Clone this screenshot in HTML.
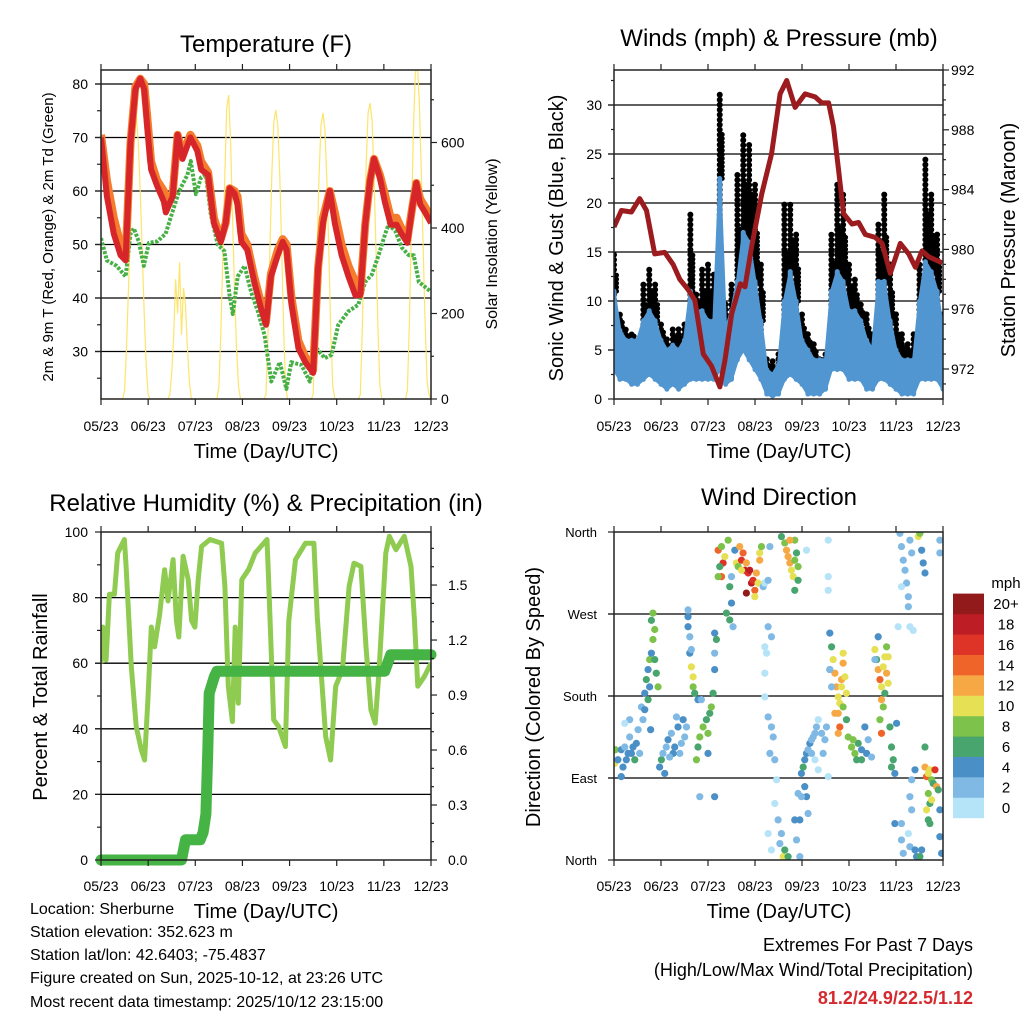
<!DOCTYPE html>
<html><head><meta charset="utf-8"><title>Sherburne Station Charts</title>
<style>
html,body{margin:0;padding:0;background:#fff;}
svg{display:block;font-family:"Liberation Sans",Arial,sans-serif;}
</style></head>
<body>
<svg id="fig" width="1024" height="1024" viewBox="0 0 1024 1024" xmlns="http://www.w3.org/2000/svg">
<defs>
<clipPath id="c1"><rect x="101" y="70" width="330" height="329"/></clipPath>
<clipPath id="c2"><rect x="614" y="70" width="329" height="329"/></clipPath>
<clipPath id="c3"><rect x="101" y="532" width="330" height="328"/></clipPath>
<clipPath id="c4"><rect x="614" y="532" width="329" height="328"/></clipPath>
</defs>
<g id="grid"></g>
<g id="d1" clip-path="url(#c1)"></g>
<g id="d2" clip-path="url(#c2)"></g>
<g id="d3" clip-path="url(#c3)"></g>
<g id="d4" clip-path="url(#c4)"></g>
<g id="axes"></g>

<text x="266" y="52" font-size="24" text-anchor="middle">Temperature (F)</text>
<text x="779" y="46" font-size="24" text-anchor="middle">Winds (mph) &amp; Pressure (mb)</text>
<text x="266" y="511" font-size="24" text-anchor="middle">Relative Humidity (%) &amp; Precipitation (in)</text>
<text x="779" y="505" font-size="24" text-anchor="middle">Wind Direction</text>

<text x="266" y="458" font-size="20" text-anchor="middle">Time (Day/UTC)</text>
<text x="779" y="458" font-size="20" text-anchor="middle">Time (Day/UTC)</text>
<text x="266" y="918" font-size="20" text-anchor="middle">Time (Day/UTC)</text>
<text x="779" y="918" font-size="20" text-anchor="middle">Time (Day/UTC)</text>

<text transform="translate(53,237) rotate(-90)" font-size="15" text-anchor="middle">2m &amp; 9m T (Red, Orange) &amp; 2m Td (Green)</text>
<text transform="translate(497,244) rotate(-90)" font-size="16" text-anchor="middle">Solar Insolation (Yellow)</text>
<text transform="translate(563,238) rotate(-90)" font-size="20" text-anchor="middle">Sonic Wind &amp; Gust (Blue, Black)</text>
<text transform="translate(1015,240) rotate(-90)" font-size="20" text-anchor="middle">Station Pressure (Maroon)</text>
<text transform="translate(47,697) rotate(-90)" font-size="20" text-anchor="middle">Percent &amp; Total Rainfall</text>
<text transform="translate(540,697) rotate(-90)" font-size="20" text-anchor="middle">Direction (Colored By Speed)</text>

<g font-size="16">
<text x="30" y="914">Location: Sherburne</text>
<text x="30" y="937">Station elevation: 352.623 m</text>
<text x="30" y="960">Station lat/lon: 42.6403; -75.4837</text>
<text x="30" y="983">Figure created on Sun, 2025-10-12, at 23:26 UTC</text>
<text x="30" y="1007">Most recent data timestamp: 2025/10/12 23:15:00</text>
</g>
<text x="973" y="951" font-size="18" text-anchor="end">Extremes For Past 7 Days</text>
<text x="973" y="976" font-size="18" text-anchor="end">(High/Low/Max Wind/Total Precipitation)</text>
<text x="973" y="1004" font-size="18" font-weight="bold" fill="#d42a2f" text-anchor="end">81.2/24.9/22.5/1.12</text>
<text x="1006" y="588" font-size="15" text-anchor="middle">mph</text>
<g id="cbar"></g>
</svg>
<script>
// ---------- data ----------
const xTickLabels=['05/23','06/23','07/23','08/23','09/23','10/23','11/23','12/23'];
const tempTicks=[30,40,50,60,70,80];
const solarTicks=[0,200,400,600];
const windTicks=[0,5,10,15,20,25,30];
const presTicks=[972,976,980,984,988,992];
const rhTicks=[0,20,40,60,80,100];
const rainTicks=[0.0,0.3,0.6,0.9,1.2,1.5];
const dirTickLabels=['North','East','South','West','North'];
const dirTickValues=[0,90,180,270,360];
const speedBins=['0','2','4','6','8','10','12','14','16','18','20+'];
const speedColors=['#b5e3f7','#80bae4','#4a8fc6','#48a56d','#7dc24a','#e6e055','#f6a844','#ef6428','#de3428','#bd1d24','#921a1b'];

const tHours=[0,3,6.5,10,12.5,15,17.5,20,22,23.5,25.5,28.5,32,33,36.5,39,41.5,45.5,49,51,54.5,57.5,61,63.5,65.5,68,69.5,71.5,74.5,78,81.5,84,86.5,90,92.5,94.5,97,100.5,104,108,110.5,113,116.5,119,122.5,126,129.5,132,134.5,137,139,142,144.5,147.5,150.5,153,156,158.5,160.5,162.5,165,168];
const temp2m=[70,59,52,48,47,69,79,81,79,72,64,61,58,56,59,70.5,66,70,67.5,64,63,54,50.5,54,60.5,59.5,57.5,50.5,49,43,38,35,44,48,50.5,49,38.8,30.6,28,26,45.6,54,60,54,48,44,40.5,40.5,53.7,62,66,62.5,58,53.7,53.7,52,50.3,57,61.5,57.5,56,54];
const temp9m=[70.5,62,55,50,47.5,69,79.5,81,80,74,65.5,62,60,58,59.5,70.5,67,70.5,68.5,65.5,63.5,55,51,54,60.5,60,59,52,50,44,39,35.5,44.5,49,51,50,40,32,29,26.5,45.6,55,60,56,50,46,43,41,53.7,62,66,63,59.5,55,55,53,51,57,61.5,58.5,57,55];
const tdHours=[0,3,8,12.5,15,16.7,19.2,21.8,24.4,28.7,32.9,36.3,39.8,44,45.7,48.3,50.9,53.4,55.9,59.4,62.8,65.4,67.1,69.6,73.1,76.5,79.9,83.3,86.7,91,94.4,96.9,102,106.3,109.7,114,117.4,120.8,125.9,131,134.5,137.9,141.3,144.7,146.4,149.8,153.2,156.7,159.2,161.8,165.2,167.7];
const dewpoint=[51.2,47,46,44,52,53,50.6,46,50.3,50.6,52,56,60,63,65.6,59.4,62.5,63,55.6,50,48.75,40.6,37,44,46,41,37.5,33,24.4,28,23,28,27.5,24.4,30.6,28.75,29.4,35,37.5,38.75,43,44.4,48,52,53.75,52.5,49.4,48,48,43,42,41.25];
const solar=[
0,0,0,0,0,0,0,0,0,0,0,0,20,120,260,400,520,620,660,600,480,340,200,80,
10,0,0,0,0,0,0,0,0,0,0,10,60,150,280,200,320,150,260,220,120,40,0,0,
0,0,0,0,0,0,0,0,0,0,0,0,30,150,330,520,680,711,600,420,250,120,30,0,
0,0,0,0,0,0,0,0,0,0,0,0,10,150,350,530,650,676,640,520,350,160,30,0,
0,0,0,0,0,0,0,0,0,0,0,0,10,150,350,520,640,669,630,510,340,150,30,0,
0,0,0,0,0,0,0,0,0,0,0,0,10,160,370,550,670,692,650,520,350,160,30,0,
0,0,0,0,0,0,0,0,0,0,0,0,20,180,400,620,760,790,700,540,360,180,40,10,0];

const windLo=[3,2,2,1.5,1.5,2,2.5,2,1.5,1,1.5,1,1.5,2,2,2,2,2,3,1.5,2,4,5,4,3,2,0.5,0.3,0.5,2,2.5,2,1.5,0.5,0.5,0.5,1,3,3,3,2,2,2,1,1,2,2,1.5,1,0.5,0.5,0.5,2,2,2,2,1];
const windHi=[11,7,6,6,6,8,9,8,6,5,5.5,5,6,11,9,9,8,8,22.5,7,9,12,17,16,12,8,3,2.5,3.5,10,13,10,6,5,4,4,4,11,13,12,9,9,8,6,5,12,12,8,5,4,4,4,10,14,13,11,7];
const gustHi=[15,9,7.5,7,6,12,13.5,12,8,6.5,7.5,7.5,8,19,11,13.5,14,13,31.5,10,12,23,27,26,22,14,4.5,4,5,20,20,17,9,7,6,4.5,5,17,22,21,14,12.5,10,9,7,18,21,14,9,7,6,7,14,24.5,21,17,9];
const presHours=[0,3.8,8.9,13.1,16.6,20.8,25.9,30.2,33.6,37.9,41.3,45.6,49.8,54.1,56.7,60.1,64.5,66.9,70.3,75.4,80.5,84.8,88.2,92.5,97.6,102.7,106.1,109.6,112.1,114.7,117.2,121.5,124.9,128.3,133.4,136.9,141.1,146.2,150.5,153.9,157.3,160.8,167.6];
const pressure=[981.5,982.6,982.5,983.4,982.6,979.7,979.8,979.0,978.0,977.3,976.6,973.0,972.2,970.8,972.6,975.7,977.7,977.5,980.2,983.7,986.4,990.4,991.3,989.5,990.4,990.2,989.8,989.8,988.2,985.3,982.4,981.7,981.8,981.0,980.8,980.4,978.4,980.4,979.7,978.8,979.9,979.5,979.1];

const rhHours=[0,0.9,2.6,4.3,6.8,8.5,11.9,12.8,15.4,17.9,20.5,22.2,23.9,25.6,27.3,29.9,32.4,34.1,36.7,38.4,39.6,41.8,44.4,46.1,47.8,49.5,51.2,55.5,61.4,63.1,64.8,66.9,68.3,69.9,71.7,75.1,78.5,84.5,85.3,87.9,90.4,93.9,95.6,99,104.1,108.4,110.1,114.4,116.9,119.5,122.9,126.3,128.8,132.3,134.9,137.4,139.6,141.6,145,146.8,150.2,154.4,157.8,159.6,161.3,164.7,168];
const rh=[60,71,61,81,81,93.6,97.7,89.5,59,40.7,33.6,30.5,48.8,71,65,75,88.5,79,91.6,73,68,92.6,85.5,73,71,85.5,95.6,97.7,96.6,83.4,53,42.2,71,47.8,85.5,88.5,93.6,97.7,85.5,42.7,40.7,34.6,73,91.6,96.6,96.6,74,37.6,30.5,53,58,83.4,90.5,89.5,65,45.8,41.7,58,93.6,98.7,94.6,98.7,89.5,73,53,56,60];
const rainHours=[0,41,43,50.5,52,53.4,54.3,55.1,57.7,59,144.5,147.5,168];
const rain=[0,0,0.11,0.11,0.15,0.25,0.58,0.91,1.0,1.03,1.03,1.12,1.12];

const dirHour=[0.3,0.7,2,3.7,4.6,5.5,6.3,7.2,8,8.9,9.7,10.6,11.4,12.3,13.1,3.7,8,5.5,
14,15.7,16.5,17.4,18.2,19.1,19.9,20.8,19.9,19.1,21.6,22.5,17.4,15.7,14.8,18.7,20.8,18.2,
23.3,24.2,25,26.7,27.6,29.3,31,32.7,33.6,35.3,36.1,37,25.9,31.9,30.2,28.4,34.4,
37.8,37.8,38.7,39.5,40.4,40.4,41.2,38.7,37.8,39.5,
42.1,42.9,43.8,45.5,47.2,48,48.9,49.7,50.6,51.4,51.4,52.3,51.4,42.9,44.6,48,43.8,51.4,
53.2,54.9,55.7,54,54.9,56.6,58.3,59.1,60,59.1,61.7,62.5,64.2,65.1,65.9,66.8,67.6,68.5,69.3,70.2,71,71.9,67.6,72.7,73.6,74.4,75.3,71.9,60,63.4,53.2,57.4,60.8,74.4,65.1,
76.2,77,78.7,79.6,77,77.9,78.7,80.4,77,77,78.7,80.4,81.3,79.6,82.1,83,82.1,83.8,85.5,78.7,80.4,86.4,88.9,87.2,94.9,92.3,94.9,93.2,94,84.7,
85.5,87.2,88.1,88.9,89.8,90.6,91.5,92.3,93.2,94,94,92.3,89.8,92.3,109.4,109.4,109.4,98.3,
95.7,96.6,97.4,98.3,99.1,100,100.9,101.7,102.6,103.4,104.3,106,106.8,107.7,108.5,97.4,98.3,95.7,99.1,100.9,102.6,109.4,104.3,
110.2,110.2,111.1,111.9,112.8,113.6,114.5,115.3,116.2,117,116.2,117.9,118.7,114.5,115.3,114.5,112.8,117,117,118.7,119.6,121.3,123,124.7,122.1,123.9,126.4,128.1,129,129.8,131.5,126.4,110.2,111.1,
133.2,134.1,134.9,135.8,136.6,137.5,138.3,139.2,140,136.6,137.5,138.3,135.8,136.6,134.9,133.2,140.9,141.7,142.6,143.4,141.7,144.3,140,139.2,
146,146.8,147.7,148.6,149.4,150.3,151.1,152,150.3,146.8,155.4,156.2,157.1,157.9,158.8,166.4,166.4,145.1,151.1,152.8,
143.4,146.8,146.8,147.7,150.3,151.1,153.7,154.5,156.2,157.1,166.4,167.3,166.4,152,151.1,152,153.7,
158.8,159.6,160.5,161.3,162.2,163,163.9,164.7,165.6,160.5,161.3,159.6,160.5,162.2,161.3,158.8];
const dirDeg=[106,121,110,121,102,124,110,117,135,117,124,110,128,143,117,91.5,154,150,
168,183,198,209,220,227,242,253,271,263,205,190,176,165,154,143,220,190,
102,110,117,124,132,139,124,146,117,154,135,146,95,157,117,113,128,
274.5,256,227,212,201,190,183,245,267,231,
110,124,135,146,154,139,161,168,183,209,227,242,249,176,176,117,69.5,69.5,
340,344,326,322,311,333,351,300,282,263.5,340,326,344,329,337,318,326,315,318,304,307,296,293,315,304,337,344,289,311,322,311,271,256,329,318,
300,304,307,344,234,227,256,245,205,179,157,146,135,117,110,88,62,44,29,29,11,3.7,3.7,11,3.7,44,44,22,73,18,
355,348,340,333,326,318,311,351,337,322,307,296,351,329,351,311,296,340,
95,102,110,117,121,128,132,135,139,146,154,139,117,132,146,80.5,69.5,69.5,51,117,110,91.5,99,
249,209,234,220,205,190,179,172,198,227,190,201,183,161,146,139,161,216,168,154,135,124,117,128,132,110,121,146,117,132,113,110,209,190,
231,220,209,198,190,212,223,205,194,176,168,183,154,139,245,220,146,124,110,95,102,150,223,234,
358.6,344,329,318,304,289,351,337,278,300,355,358.6,340,326,315,351,337,256,256,252,
40,40,22,7.3,29,14.6,11,3.7,3.7,11,25.6,7.3,55,88,69.5,55,99,
102,91.5,95,99,88,84,99,80.5,77,73,62,55,44,66,40,124];
const dirSpd=[10,8,4,4,4,2,4,4,2,4,4,6,4,2,2,4,2,0,
2,4,6,4,8,4,8,8,8,6,6,8,6,4,2,4,6,4,
4,6,2,2,4,2,4,4,2,4,2,2,4,2,4,2,2,
2,4,4,10,10,8,6,2,4,2,
8,6,8,8,6,8,6,8,6,4,2,6,4,4,2,4,2,4,
14,8,16,6,14,10,8,6,4,6,4,10,12,16,14,18,12,16,18,18,16,14,20,12,10,10,8,10,2,8,8,6,2,12,10,
2,0,2,2,0,0,2,2,0,0,2,2,2,2,2,0,0,2,2,0,0,10,6,6,2,4,4,2,2,2,
6,8,12,12,12,10,10,8,6,8,6,6,12,8,0,0,0,0,
4,6,4,4,2,4,2,2,2,2,0,2,2,2,2,4,4,2,2,2,0,0,0,
4,4,6,10,12,12,10,10,12,10,10,10,10,12,14,12,12,12,8,6,8,8,8,6,8,6,4,4,4,2,2,6,2,2,
10,6,12,14,10,10,10,12,10,12,8,6,8,14,4,2,6,6,6,4,6,4,10,8,
2,2,2,2,2,2,2,2,2,0,10,8,4,4,4,2,2,0,0,0,
4,2,2,2,0,2,4,4,6,4,4,4,4,2,2,2,4,
12,14,10,10,8,6,16,12,6,8,6,10,6,10,6,6];

// ---------- helpers ----------
const NS='http://www.w3.org/2000/svg';
function mk(tag,attrs,parent){const e=document.createElementNS(NS,tag);for(const k in attrs)e.setAttribute(k,attrs[k]);parent.appendChild(e);return e;}
const P1={x0:101,y0:70,x1:431,y1:399},P2={x0:614,y0:70,x1:943,y1:399},P3={x0:101,y0:532,x1:431,y1:860},P4={x0:614,y0:532,x1:943,y1:860};
const xH=(p,h)=>p.x0+h*(p.x1-p.x0)/168;
const yT=v=>84+(80-v)*5.35;
const ySol=v=>399-v*0.4275;
const yW=v=>399-v*9.8;
const yP=v=>369-(v-972)*14.95;
const yRH=v=>860-v*3.28;
const yRain=v=>860-v*183.3;
const yD=v=>860-v*328/360;
const grid=document.getElementById('grid'),axes=document.getElementById('axes');
function pts(p,hs,vs,yf){return hs.map((h,i)=>xH(p,h).toFixed(1)+','+yf(vs[i]).toFixed(1)).join(' ');}

// ---------- gridlines ----------
function hline(p,y,name){const l=mk('line',{x1:p.x0-6,x2:p.x1,y1:y,y2:y,stroke:'#000','stroke-width':1.3},grid);

}
tempTicks.forEach(v=>hline(P1,yT(v),'temp-gridline'));
windTicks.slice(1).forEach(v=>hline(P2,yW(v),'wind-gridline'));
rhTicks.slice(1,5).forEach(v=>hline(P3,yRH(v),'rh-gridline'));
dirTickValues.slice(1,4).forEach(v=>hline(P4,yD(v),'direction-gridline'));

// ---------- panel 1 ----------
const d1=document.getElementById('d1');
let e=mk('polyline',{points:solar.map((v,i)=>xH(P1,i).toFixed(1)+','+ySol(v).toFixed(1)).join(' '),fill:'none',stroke:'#fde46a','stroke-width':1.2},d1);


e=mk('polyline',{points:pts(P1,tdHours,dewpoint,yT),fill:'none',stroke:'#47b045','stroke-width':4,'stroke-dasharray':'3 1.5','stroke-linejoin':'round'},d1);


e=mk('polyline',{points:pts(P1,tHours,temp9m,yT),fill:'none',stroke:'#f47c2c','stroke-width':8,'stroke-linejoin':'round'},d1);


e=mk('polyline',{points:pts(P1,tHours,temp2m,yT),fill:'none',stroke:'#d7262a','stroke-width':6,'stroke-linejoin':'round'},d1);



// ---------- panel 2 ----------
const d2=document.getElementById('d2');
gustHi.forEach((g,i)=>{const x=xH(P2,i*3);
const b=mk('line',{x1:x,x2:x,y1:yW(windLo[i]+1),y2:yW(g),stroke:'#000','stroke-width':6,'stroke-linecap':'round','stroke-dasharray':'0 5'},d2);


const b2=mk('line',{x1:x+2.5,x2:x+2.5,y1:yW(windHi[i]),y2:yW((g+windHi[i])/2),stroke:'#000','stroke-width':5,'stroke-linecap':'round','stroke-dasharray':'0 4'},d2);

});
const bandTop=windHi.map((w,i)=>xH(P2,i*3).toFixed(1)+','+yW(w).toFixed(1));
const bandBot=windLo.map((w,i)=>xH(P2,i*3).toFixed(1)+','+yW(w).toFixed(1)).reverse();
e=mk('polygon',{points:bandTop.concat(bandBot).join(' '),fill:'#5196d0',stroke:'#5196d0','stroke-width':3,'stroke-linejoin':'round'},d2);


windHi.forEach((w,i)=>{const x=xH(P2,i*3);
const b=mk('line',{x1:x,x2:x,y1:yW(windLo[i]),y2:yW(w),stroke:'#5196d0','stroke-width':5,'stroke-linecap':'round'},d2);

});
e=mk('polyline',{points:pts(P2,presHours,pressure,yP),fill:'none',stroke:'#9b1b1e','stroke-width':5,'stroke-linejoin':'round'},d2);



// ---------- panel 3 ----------
const d3=document.getElementById('d3');
e=mk('polyline',{points:pts(P3,rhHours,rh,yRH),fill:'none',stroke:'#8ecb50','stroke-width':5,'stroke-linejoin':'round'},d3);


e=mk('polyline',{points:pts(P3,rainHours,rain,yRain),fill:'none',stroke:'#45b445','stroke-width':11,'stroke-linejoin':'round','stroke-linecap':'round'},document.getElementById('axes'));



// ---------- panel 4 ----------
const d4=document.getElementById('d4');
dirHour.forEach((h,i)=>{const ci=Math.min(10,Math.floor(dirSpd[i]/2));
const c=mk('circle',{cx:xH(P4,h),cy:yD(dirDeg[i]),r:3.6,fill:speedColors[ci]},d4);

});

// colorbar
const cb=document.getElementById('cbar');
speedBins.forEach((lab,i)=>{const y=818-(i+1)*20.4;
const r=mk('rect',{x:953,y:y,width:31,height:20.6,fill:speedColors[i]},cb);


const t=mk('text',{x:1006,y:y+15.5,'font-size':15,'text-anchor':'middle'},cb);
t.textContent=lab;

});

// ---------- axes / frames / ticks ----------
function frame(p,name){const r=mk('rect',{x:p.x0,y:p.y0,width:p.x1-p.x0,height:p.y1-p.y0,fill:'none',stroke:'#222','stroke-width':1.5},axes);

}
function tick(x1,y1,x2,y2,name){const l=mk('line',{x1:x1,y1:y1,x2:x2,y2:y2,stroke:'#222','stroke-width':1.2},axes);

}
function label(x,y,txt,anchor,name,size){const t=mk('text',{x:x,y:y,'font-size':size||14,'text-anchor':anchor},axes);
t.textContent=txt;

}
[[P1,'temperature-frame'],[P2,'wind-frame'],[P3,'humidity-frame'],[P4,'direction-frame']].forEach(([p,n])=>{
frame(p,n);
xTickLabels.forEach((lab,i)=>{const x=xH(p,i*24);
tick(x,p.y1,x,p.y1+6,'x-tick');
tick(x,p.y0,x,p.y0-6,'x-tick-top');
label(x,p.y1+(p===P3||p===P4?31:32),lab,'middle','x-tick-label');});});
tempTicks.forEach(v=>{tick(95,yT(v),101,yT(v),'y-tick');label(88,yT(v)+5,String(v),'end','temp-tick-label');});
[35,45,55,65,75,25].forEach(v=>tick(97,yT(v),101,yT(v),'y-minor-tick'));
solarTicks.forEach(v=>{tick(431,ySol(v),437,ySol(v),'y2-tick');label(441,ySol(v)+5,String(v),'start','solar-tick-label');});
[100,300,500,700].forEach(v=>tick(431,ySol(v),434,ySol(v),'y2-minor-tick'));
windTicks.forEach(v=>{tick(608,yW(v),614,yW(v),'y-tick');label(602,yW(v)+5,String(v),'end','wind-tick-label');});
[2.5,7.5,12.5,17.5,22.5,27.5,32.5].forEach(v=>tick(611,yW(v),614,yW(v),'y-minor-tick'));
presTicks.forEach(v=>{tick(943,yP(v),949,yP(v),'y2-tick');label(951,yP(v)+5,String(v),'start','pressure-tick-label');});
[971,973,974,975,977,978,979,981,982,983,985,986,987,989,990,991].forEach(v=>tick(943,yP(v),946,yP(v),'y2-minor-tick'));
rhTicks.forEach(v=>{tick(95,yRH(v),101,yRH(v),'y-tick');label(88,yRH(v)+5,String(v),'end','rh-tick-label');});
[10,30,50,70,90].forEach(v=>tick(97,yRH(v),101,yRH(v),'y-minor-tick'));
rainTicks.forEach(v=>{tick(431,yRain(v),437,yRain(v),'y2-tick');label(448,yRain(v)+5,v.toFixed(1),'start','rain-tick-label');});
[0.1,0.2,0.4,0.5,0.7,0.8,1.0,1.1,1.3,1.4,1.6,1.7].forEach(v=>tick(431,yRain(v),434,yRain(v),'y2-minor-tick'));
dirTickValues.forEach((v,i)=>{tick(608,yD(v),614,yD(v),'y-tick');label(597,yD(v)+5,dirTickLabels[i],'end','direction-tick-label',13);});
</script>
</body></html>
